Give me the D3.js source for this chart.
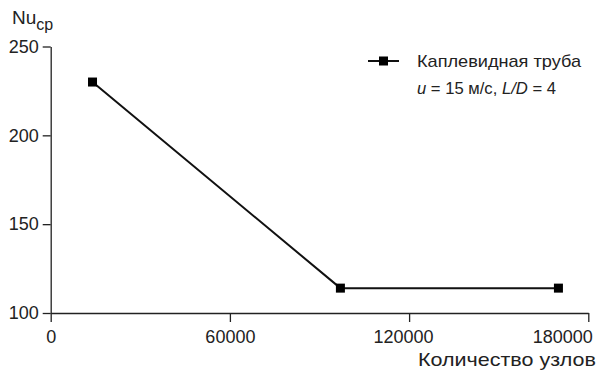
<!DOCTYPE html>
<html>
<head>
<meta charset="utf-8">
<script src="https://cdn.jsdelivr.net/npm/d3@7/dist/d3.min.js"></script>
<style>
  body { margin: 0; background: #fff; }
  svg { display: block; }
  text { font-family: "Liberation Sans", Arial, sans-serif; fill: #222; }
</style>
</head>
<body>
<svg id="chart" width="597" height="372"></svg>
<script>
// Mesh nodes vs. mean Nusselt number
const nodes = [14000, 97000, 170000];
const nuMean = [230, 114, 114];
const xTicks = [0, 60000, 120000, 180000];
const yTicks = [100, 150, 200, 250];

const svg = d3.select("#chart");
const x = d3.scaleLinear().domain([0, 180000]).range([50.7, 588.3]);
const y = d3.scaleLinear().domain([100, 250]).range([313, 46.5]);

const fontSize = 18;

// x axis
const gx = svg.append("g").attr("transform", `translate(0,${y(100)})`)
  .call(d3.axisBottom(x).tickValues(xTicks).tickFormat(d3.format("d")).tickSize(9).tickSizeOuter(0));
// y axis
const gy = svg.append("g").attr("transform", `translate(${x(0)},0)`)
  .call(d3.axisLeft(y).tickValues(yTicks).tickSize(8).tickSizeOuter(0));

[gx, gy].forEach(g => {
  g.selectAll("path.domain").attr("stroke", "#222").attr("stroke-width", 1.3);
  g.selectAll(".tick line").attr("stroke", "#222").attr("stroke-width", 1.3);
  g.selectAll(".tick text").attr("font-size", fontSize).attr("font-family", "Liberation Sans, Arial, sans-serif").attr("fill", "#222");
});
gx.selectAll(".tick text").attr("y", 17)
  .attr("text-anchor", d => d === 180000 ? "end" : "middle")
  .attr("dx", d => d === 180000 ? 4 : (d === 120000 ? -6 : 0));
gy.selectAll(".tick text").attr("x", -12);

// axis titles
const yt = svg.append("text").attr("x", 12).attr("y", 24).attr("font-size", 19);
yt.append("tspan").text("Nu");
yt.append("tspan").attr("dy", 6).attr("font-size", 16).text("ср");

svg.append("text").attr("x", 596).attr("y", 366).attr("text-anchor", "end")
  .attr("font-size", 19).attr("textLength", 178).attr("lengthAdjust", "spacingAndGlyphs")
  .text("Количество узлов");

// data line
const data = nodes.map((n, i) => ({ n, v: nuMean[i] }));
svg.append("path").datum(data)
  .attr("fill", "none").attr("stroke", "#111").attr("stroke-width", 2)
  .attr("d", d3.line().x(d => x(d.n)).y(d => y(d.v)));
svg.selectAll("rect.pt").data(data).join("rect").attr("class", "pt")
  .attr("x", d => x(d.n) - 4.5).attr("y", d => y(d.v) - 4.5)
  .attr("width", 9).attr("height", 9).attr("fill", "#000");

// legend
const lg = svg.append("g");
lg.append("line").attr("x1", 368).attr("x2", 399).attr("y1", 61).attr("y2", 61)
  .attr("stroke", "#111").attr("stroke-width", 2);
lg.append("rect").attr("x", 379).attr("y", 56.5).attr("width", 9).attr("height", 9).attr("fill", "#000");
lg.append("text").attr("x", 417).attr("y", 67).attr("font-size", 17)
  .attr("textLength", 164).attr("lengthAdjust", "spacingAndGlyphs").text("Каплевидная труба");
const l2 = lg.append("text").attr("x", 417).attr("y", 94).attr("font-size", 17)
  .attr("textLength", 139).attr("lengthAdjust", "spacingAndGlyphs");
l2.append("tspan").attr("font-style", "italic").text("u");
l2.append("tspan").text(" = 15 м/с, ");
l2.append("tspan").attr("font-style", "italic").text("L/D");
l2.append("tspan").text(" = 4");
</script>
</body>
</html>
